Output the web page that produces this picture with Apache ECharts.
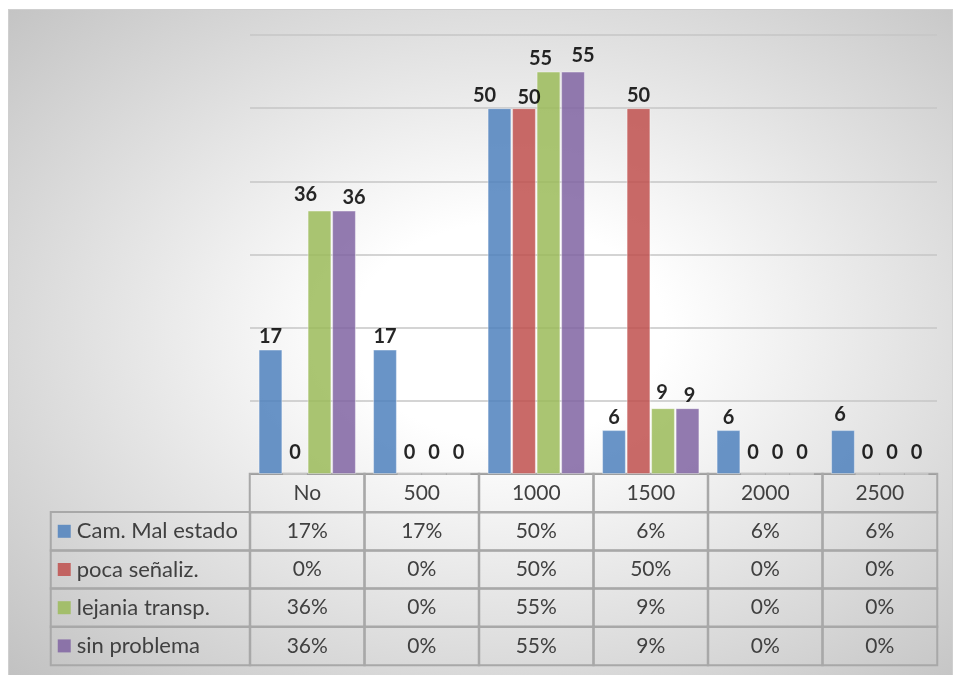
<!DOCTYPE html>
<html>
<head>
<meta charset="utf-8">
<script src="https://cdn.jsdelivr.net/npm/echarts@6/dist/echarts.min.js"></script>
<style>
html,body{margin:0;padding:0;background:#fff;}
#frame{position:absolute;left:8px;top:9px;width:943px;height:670px;border:1px solid #cfcfcf;
background:radial-gradient(ellipse farthest-corner at 53% 48%, #ffffff 0%, #ffffff 22%, #c1c1c1 100%);}
#chart{position:absolute;left:0;top:0;width:957px;height:675px;}
</style>
</head>
<body>
<div id="frame"></div>
<div id="chart"></div>
<script>
const categories = ['No', '500', '1000', '1500', '2000', '2500'];
const seriesNames = ['Cam. Mal estado', 'poca señaliz.', 'lejania transp.', 'sin problema'];
const camMalEstado = [17, 17, 50, 6, 6, 6];
const pocaSenaliz = [0, 0, 50, 50, 0, 0];
const lejaniaTransp = [36, 0, 55, 9, 0, 0];
const sinProblema = [36, 0, 55, 9, 0, 0];
const yTicks = [0, 10, 20, 30, 40, 50, 60];

const seriesValues = [camMalEstado, pocaSenaliz, lejaniaTransp, sinProblema];
const colors = ['#4f81bd', '#c0504d', '#9bbb59', '#8064a2'];
const FONT = 'Lato';
// manual label nudges (style only): series index -> category index -> [dx, dy]
const labelNudge = {
  0: {2: [-15, 0], 5: [-3, -3]},
  1: {2: [5, 2]},
  2: {0: [-14, -3], 2: [-8, 0], 3: [-1, -3]},
  3: {0: [10, 0], 2: [10, -3], 3: [2, 0]}
};

const chart = echarts.init(document.getElementById('chart'), null, {renderer: 'canvas'});

const barSeries = seriesValues.map((vals, i) => ({
  name: seriesNames[i],
  type: 'bar',
  xAxisIndex: 0, yAxisIndex: 0,
  barGap: '3%',
  barCategoryGap: '15%',
  itemStyle: {color: colors[i], opacity: 0.85, borderColor: 'rgba(255,255,255,0.45)', borderWidth: 1},
  emphasis: {disabled: true},
  label: {
    show: true, position: 'top', distance: 3,
    color: '#000', fontFamily: FONT, fontWeight: 'bold', fontSize: 20
  },
  data: vals.map((v, ci) => {
    const lbl = {};
    if (v === 0) lbl.distance = 11;
    const n = labelNudge[i] && labelNudge[i][ci];
    if (n) lbl.offset = n;
    return Object.keys(lbl).length ? {value: v, label: lbl} : v;
  })
}));

// table cells: [col, row, value]
const tableData = [];
categories.forEach((c, ci) => {
  tableData.push([ci, 0, 0]);
  seriesValues.forEach((vals, si) => tableData.push([ci, si + 1, vals[ci]]));
});
const legendData = seriesNames.map((n, i) => [0, i, i]);

const rich = {t: {color: '#404040', fontFamily: FONT, fontSize: 22, padding: [0, 0, 0, 6]}};
colors.forEach((c, i) => { rich['k' + i] = {width: 13, height: 13, backgroundColor: c, opacity: 0.85}; });

const hiddenAxis = {axisLine: {show: false}, axisTick: {show: false}, axisLabel: {show: false}, splitLine: {show: false}};

chart.setOption({
  animation: false,
  backgroundColor: 'transparent',
  grid: [
    {left: 250, right: 20, top: 35, bottom: 201},
    {left: 250, right: 20, top: 474, height: 191},
    {left: 51, width: 199, top: 512.2, height: 152.8}
  ],
  xAxis: [
    {type: 'category', gridIndex: 0, data: categories,
     axisLine: {show: true, lineStyle: {color: '#808080', width: 2}},
     axisTick: {show: false}, axisLabel: {show: false}},
    Object.assign({type: 'category', gridIndex: 1, data: categories}, hiddenAxis),
    Object.assign({type: 'category', gridIndex: 2, data: ['']}, hiddenAxis)
  ],
  yAxis: [
    {type: 'value', gridIndex: 0, min: yTicks[0], max: yTicks[yTicks.length - 1], interval: 10,
     axisLine: {show: false}, axisTick: {show: false}, axisLabel: {show: false},
     splitLine: {show: true, lineStyle: {color: '#c6c6c6', width: 1.5}}},
    Object.assign({type: 'category', gridIndex: 1, inverse: true, data: ['hdr'].concat(seriesNames)}, hiddenAxis),
    Object.assign({type: 'category', gridIndex: 2, inverse: true, data: seriesNames}, hiddenAxis)
  ],
  series: barSeries.concat([
    {
      type: 'heatmap', xAxisIndex: 1, yAxisIndex: 1,
      data: tableData,
      itemStyle: {color: 'rgba(0,0,0,0)', borderColor: '#a8a8a8', borderWidth: 2},
      emphasis: {disabled: true},
      label: {
        show: true, color: '#404040', fontFamily: FONT, fontSize: 21,
        formatter: p => p.data[1] === 0 ? categories[p.data[0]] : p.data[2] + '%'
      }
    },
    {
      type: 'heatmap', xAxisIndex: 2, yAxisIndex: 2,
      data: legendData,
      itemStyle: {color: 'rgba(0,0,0,0)', borderColor: '#a8a8a8', borderWidth: 2},
      emphasis: {disabled: true},
      label: {
        show: true, position: 'insideLeft', distance: 8,
        formatter: p => '{k' + p.data[2] + '| }{t|' + seriesNames[p.data[2]] + '}',
        rich: rich
      }
    }
  ])
});
</script>
</body>
</html>
